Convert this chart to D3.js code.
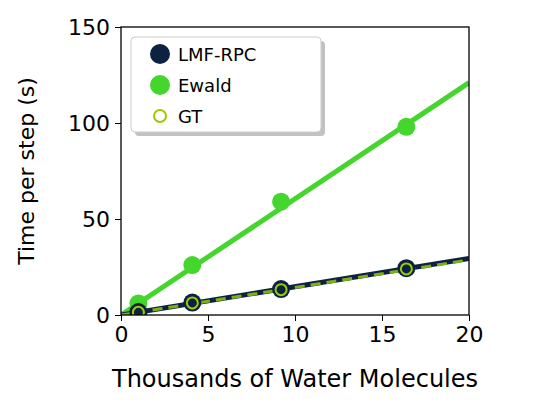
<!DOCTYPE html><html><head><meta charset="utf-8"><script src="https://cdn.jsdelivr.net/npm/d3@7"></script>
<style>body{margin:0;background:#fff}text{font-family:"DejaVu Sans";fill:#000}</style></head><body><svg id="c" width="534" height="410"></svg><script>
const xs=[1,4.1,9.2,16.4];
const ewald=[6,26,59,98];
const lmf=[1.5,6.5,13.5,24.4];
const gt=[1.4,6.3,13.2,24.0];
const fitX=[0,20];
const ewaldFit=[0,121];
const lmfFit=[0,29.5];
const gtFit=[0,28.7];
const xTicks=[0,5,10,15,20], yTicks=[0,50,100,150];
const svg=d3.select("#c");
const x=d3.scaleLinear().domain([0,20]).range([121,469]);
const y=d3.scaleLinear().domain([0,150]).range([315,27]);
const g=svg.append("g");
g.append("defs").append("clipPath").attr("id","cp").append("rect").attr("x",121).attr("y",27).attr("width",348).attr("height",288);
const pl=g.append("g").attr("clip-path","url(#cp)");
const line=(ys)=>d3.line().x((d,i)=>x(fitX[i])).y(d=>y(d))(ys);
pl.append("path").attr("d",line(ewaldFit)).attr("stroke","#44d62c").attr("stroke-width",5).attr("fill","none");
pl.append("path").attr("d",line(lmfFit)).attr("stroke","#0d2240").attr("stroke-width",5).attr("fill","none");
pl.append("path").attr("d",line(gtFit)).attr("stroke","#7fae1a").attr("stroke-width",3).attr("stroke-dasharray","10,6").attr("fill","none");
pl.selectAll(".e").data(xs).join("circle").attr("cx",d=>x(d)).attr("cy",(d,i)=>y(ewald[i])).attr("r",9).attr("fill","#44d62c");
pl.selectAll(".l").data(xs).join("circle").attr("cx",d=>x(d)).attr("cy",(d,i)=>y(lmf[i])).attr("r",9).attr("fill","#0d2240");
pl.selectAll(".g").data(xs).join("circle").attr("cx",d=>x(d)).attr("cy",(d,i)=>y(gt[i])).attr("r",5.5).attr("fill","none").attr("stroke","#9acd00").attr("stroke-width",2);
g.append("rect").attr("x",121).attr("y",27).attr("width",348).attr("height",288).attr("fill","none").attr("stroke","#000").attr("stroke-width",1.3);
g.append("g").attr("transform","translate(0,315)").call(d3.axisBottom(x).tickValues(xTicks).tickSize(6).tickPadding(5)).call(a=>{a.select(".domain").remove();a.selectAll("text").attr("font-size",22).attr("font-family","DejaVu Sans");});
g.append("g").attr("transform","translate(121,0)").call(d3.axisLeft(y).tickValues(yTicks).tickSize(6).tickPadding(5)).call(a=>{a.select(".domain").remove();a.selectAll("text").attr("font-size",22).attr("font-family","DejaVu Sans");});
svg.append("text").attr("x",295).attr("y",387).attr("text-anchor","middle").attr("font-size",24).text("Thousands of Water Molecules");
svg.append("text").attr("transform","translate(34,171) rotate(-90)").attr("text-anchor","middle").attr("font-size",22).text("Time per step (s)");
const lg=svg.append("g");
lg.append("rect").attr("x",135).attr("y",41).attr("width",190).attr("height",95).attr("rx",4).attr("fill","#999").attr("opacity",0.6);
lg.append("rect").attr("x",131).attr("y",37).attr("width",190).attr("height",95).attr("rx",4).attr("fill","#fff").attr("stroke","#ccc");
const names=["LMF-RPC","Ewald","GT"];
names.forEach((n,i)=>{const cy=54+i*31;
 if(i<2) lg.append("circle").attr("cx",160).attr("cy",cy).attr("r",10).attr("fill",i==0?"#0d2240":"#44d62c");
 else lg.append("circle").attr("cx",160).attr("cy",cy).attr("r",6).attr("fill","none").attr("stroke","#9acd00").attr("stroke-width",2);
 lg.append("text").attr("x",178).attr("y",cy+7).attr("font-size",18).text(n);});
</script></body></html>
